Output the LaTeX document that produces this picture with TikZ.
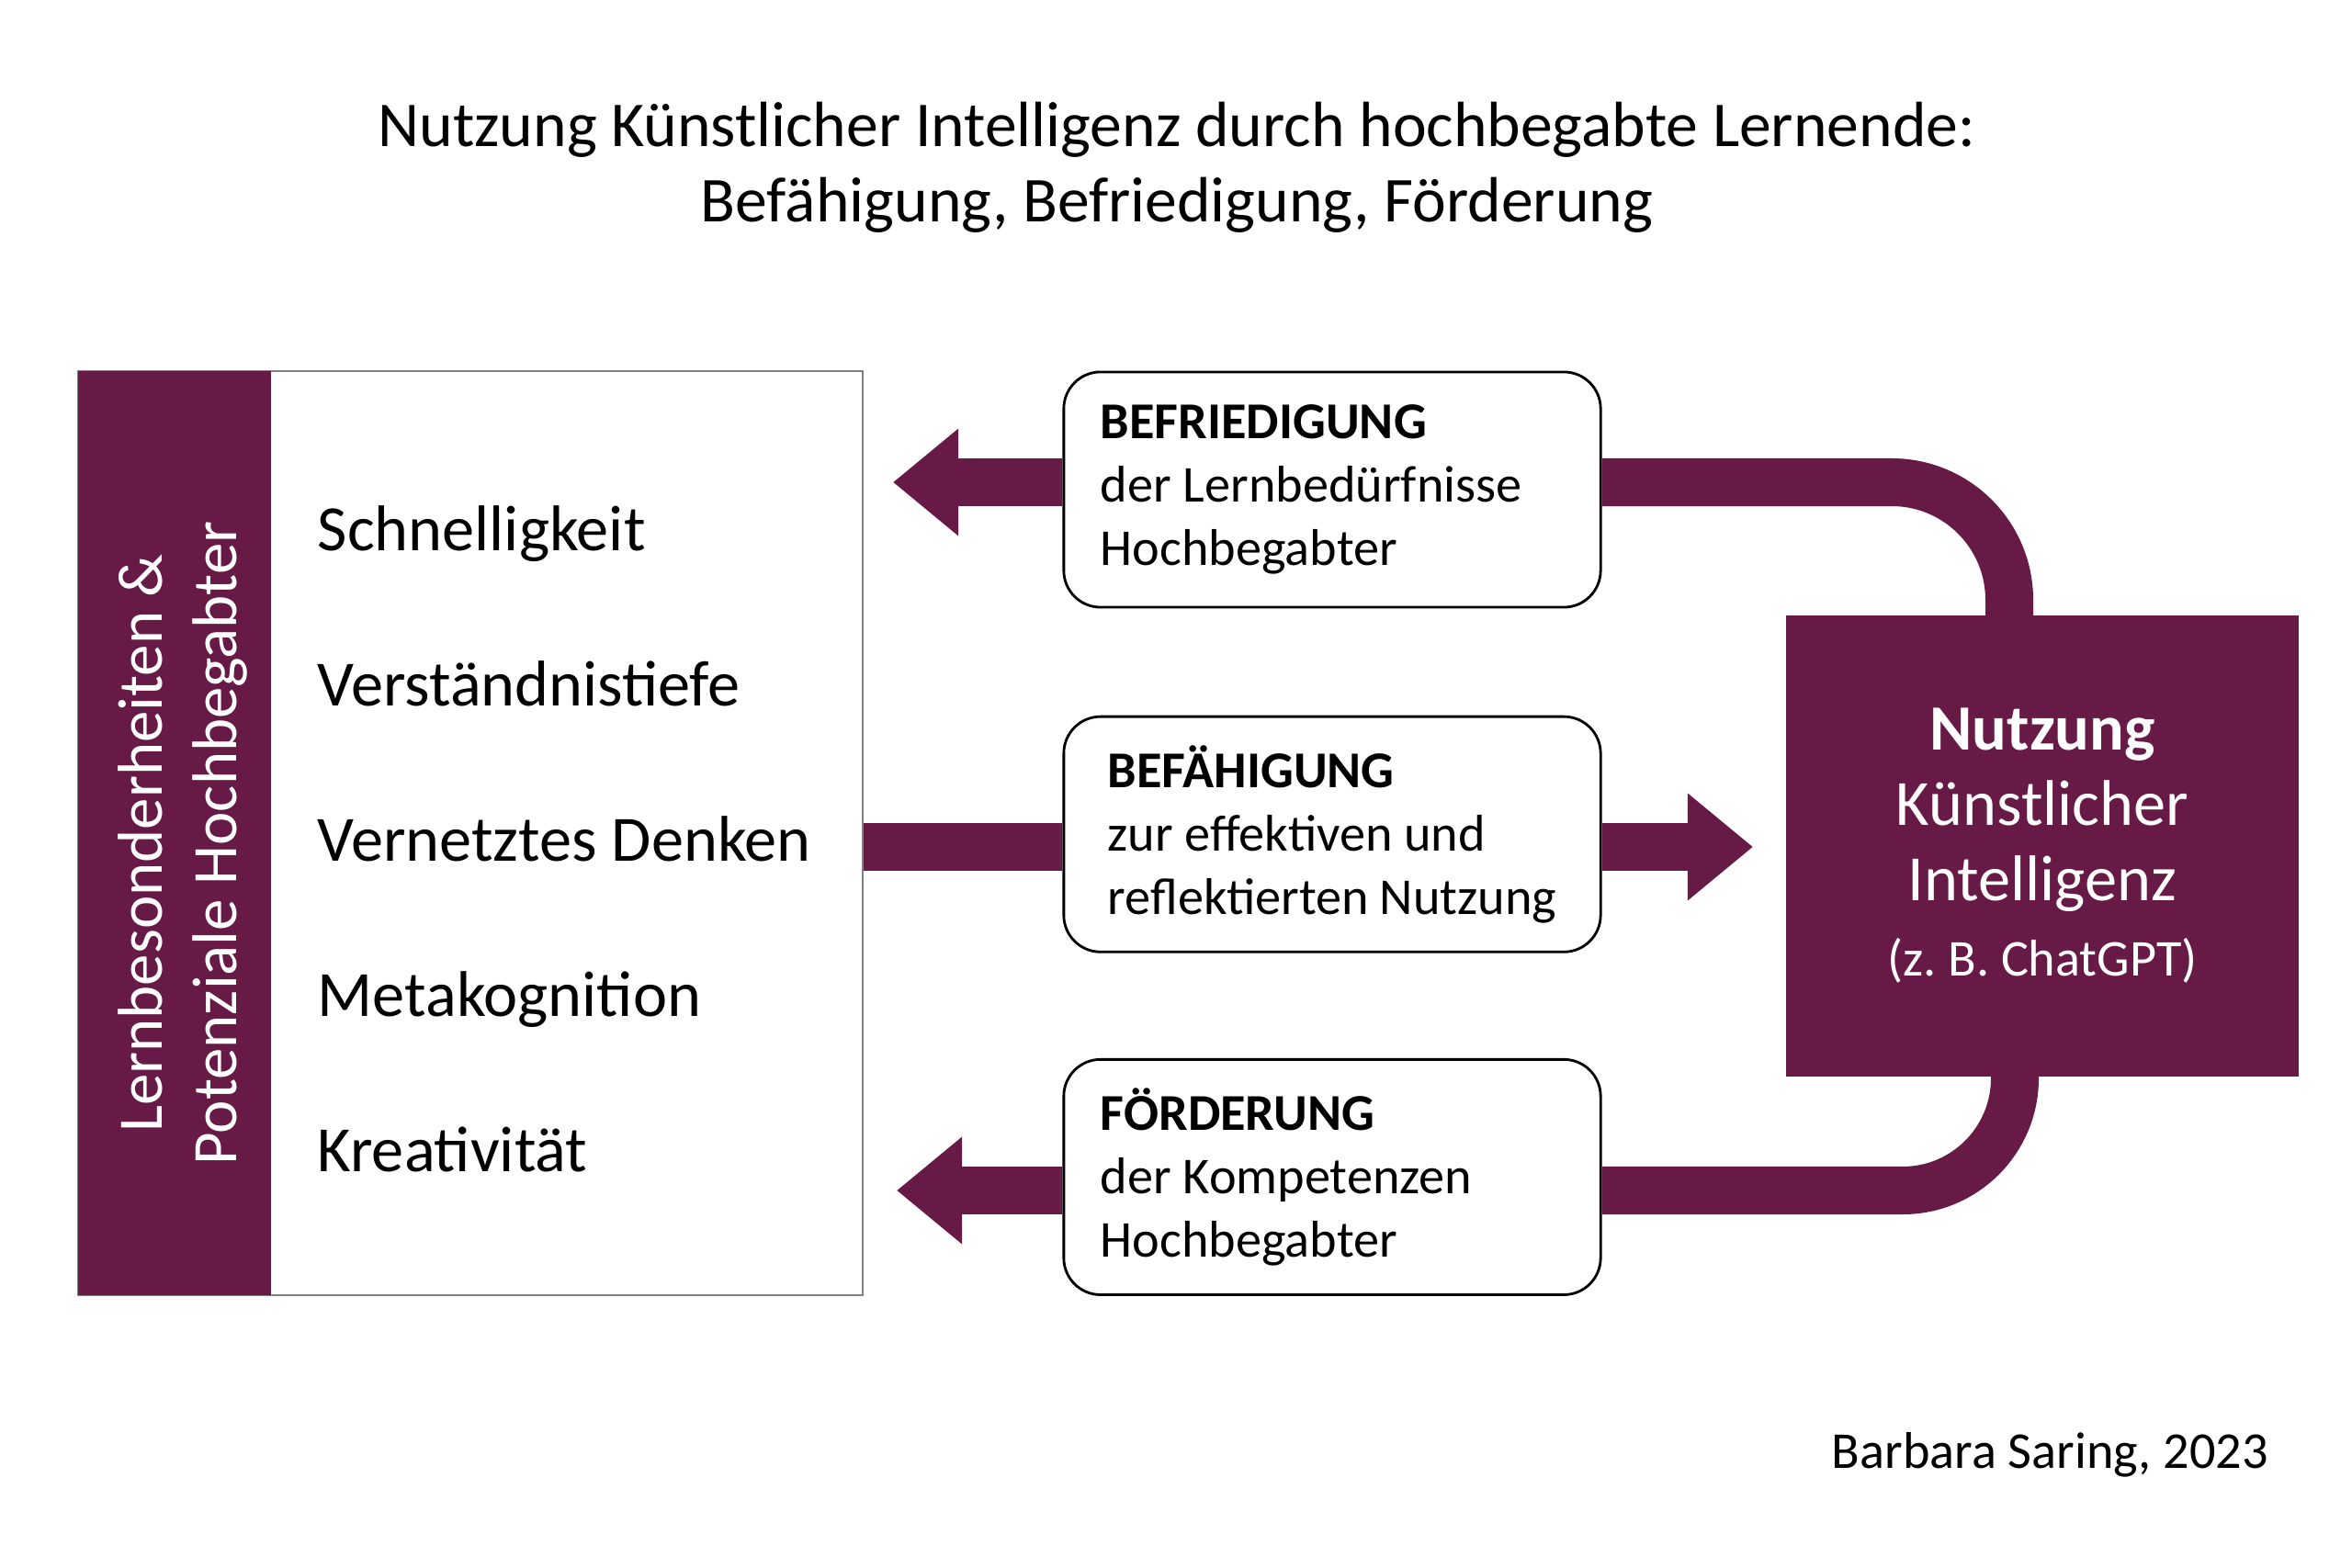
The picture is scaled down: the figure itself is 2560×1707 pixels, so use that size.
\documentclass[tikz,border=0pt]{standalone}
\usepackage{fontspec}
\setmainfont{Carlito}
\frenchspacing
\usetikzlibrary{arrows.meta,positioning}
\definecolor{aubergine}{HTML}{661A45}

\begin{document}
\begin{tikzpicture}[x=0.01cm, y=-0.01cm]
%coordinates in pixels of the page, y runs downward
\tikzstyle{item}=[text width=5.8cm, align=flush left, inner sep=0pt, text height=0.5cm, text depth=0.14cm, on grid, font=\fontsize{20}{24}\selectfont]
\tikzstyle{box}=[draw=black, line width=0.8pt, rounded corners=0.4cm, fill=white, minimum width=5.84cm, minimum height=2.56cm, text width=5.04cm, inner xsep=0.4cm, align=flush left, on grid, font=\fontsize{16}{19.6}\selectfont]
\tikzstyle{band}=[draw=aubergine, line width=0.52cm]
\tikzstyle{head}=[-{Triangle[length=0.71cm, width=1.12cm]}]

\fill[white] (0,0) rectangle (2560,1707);
\useasboundingbox (0,0) rectangle (2560,1707);

\node[align=center, font=\fontsize{19.8}{23.3}\selectfont](T) at (1281,182) {Nutzung Künstlicher Intelligenz durch hochbegabte Lernende:\\Befähigung, Befriedigung, Förderung};

\node[draw=gray, line width=0.6pt, minimum width=8.54cm, minimum height=10.05cm](L) at (512,907) {};
\node[fill=aubergine, minimum width=2.10cm, minimum height=10.05cm](S) at (190,907) {};
\node[text=white, rotate=90, align=center, font=\fontsize{19.6}{23.3}\selectfont](SL) at (199,918) {Lernbesonderheiten \&\\Potenziale Hochbegabter};

\node[item](I1) at (636,581) {Schnelligkeit};
\node[item](I2) [below = 1.69cm of I1] {Verständnistiefe};
\node[item](I3) [below = 1.69cm of I2] {Vernetztes Denken};
\node[item](I4) [below = 1.69cm of I3] {Metakognition};
\node[item](I5) [below = 1.69cm of I4] {Kreativität};

\node[box](B1) at (1450,533) {\textbf{BEFRIEDIGUNG}\\der Lernbedürfnisse\\Hochbegabter};
\node[box, text width=4.88cm, inner xsep=0.48cm](B2) [below = 3.75cm of B1] {\textbf{BEFÄHIGUNG}\\zur effektiven und\\reflektierten Nutzung};
\node[box](B3) [below = 3.73cm of B2] {\textbf{FÖRDERUNG}\\der Kompetenzen\\Hochbegabter};

\node[fill=aubergine, text=white, minimum width=5.57cm, minimum height=5.02cm, align=center, font=\fontsize{20}{23.3}\selectfont](K) at (2223,921) {\textbf{Nutzung}\\Künstlicher\\Intelligenz\\{\fontsize{16}{19.6}\selectfont(z. B. ChatGPT)}};

\node[anchor=mid east, font=\fontsize{16}{19.6}\selectfont](C) at (2481,1590) {Barbara Saring, 2023};

\coordinate (P1) at (972,525);
\coordinate (Q1) at (2187,670);
\coordinate (P2) at (1908,922);
\coordinate (Q3) at (2193,1172);
\coordinate (P3) at (976,1296);

\draw[band, head] (B1.west |- P1) -- (P1);
\draw[band, rounded corners=1.28cm] (B1.east |- P1) -| (Q1);
\draw[band] (L.east |- P2) -- (B2.west |- P2);
\draw[band, head] (B2.east |- P2) -- (P2);
\draw[band, rounded corners=1.22cm] (Q3) |- (B3.east |- P3);
\draw[band, head] (B3.west |- P3) -- (P3);
\end{tikzpicture}
\end{document}
